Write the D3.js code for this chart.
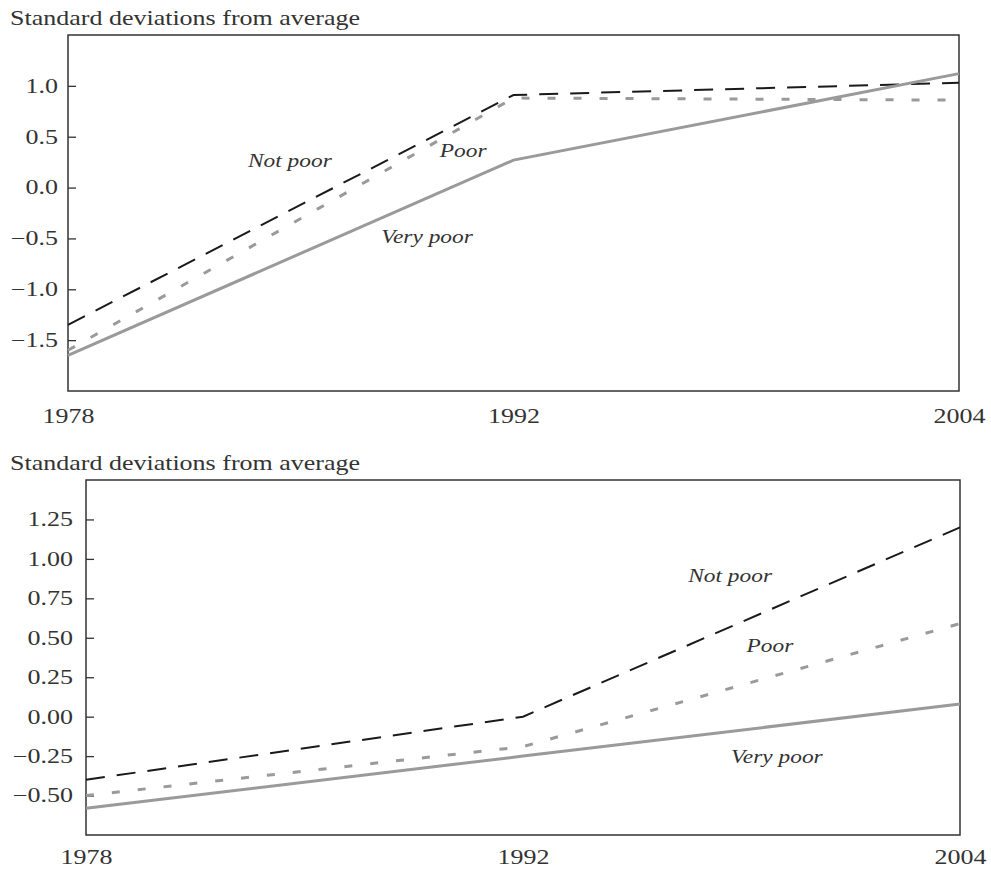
<!DOCTYPE html>
<html lang="en">
	<head>
		<meta charset="utf-8">
		<title>Standard deviations from average</title>
		<script src="https://d3js.org/d3.v7.min.js"></script>
		<style type="text/css">
			body { margin: 0; background: #fff; }
			text { font-family: "Liberation Serif", "Times New Roman", serif; fill: #333; }
		</style>
	</head>
	<body>
		<script type="text/javascript">
		// data
		var years = ["1978", "1992", "2004"];
		var seriesNames = ["Not poor", "Poor", "Very poor"];

		var topNotPoor = [-1.35, 0.91, 1.03];
		var topPoor = [-1.60, 0.88, 0.86];
		var topVeryPoor = [-1.65, 0.27, 1.12];
		var topTicks = [-1.5, -1.0, -0.5, 0.0, 0.5, 1.0];

		var botNotPoor = [-0.40, 0.00, 1.20];
		var botPoor = [-0.50, -0.19, 0.59];
		var botVeryPoor = [-0.58, -0.25, 0.08];
		var botTicks = [-0.5, -0.25, 0.0, 0.25, 0.5, 0.75, 1.0, 1.25];

		var sx = 1.3; // the scan's type is wide, stretch text horizontally

		var svg = d3.select("body")
			.append("svg")
			.attr("width", 991)
			.attr("height", 870);

		var styles = [
			{ stroke: "#1a1a1a", width: 2, dash: "19,12" },
			{ stroke: "#9a9a9a", width: 3, dash: "8,18" },
			{ stroke: "#9a9a9a", width: 3, dash: null }
		];

		function panel(opt) {
			var x = d3.scalePoint().domain(years).range([opt.left, opt.right]);
			// same positions by index, for placing the labels
			var xi = d3.scaleLinear().domain([0, years.length - 1]).range([opt.left, opt.right]);
			var y = d3.scaleLinear().domain(opt.domain).range([opt.bottom, opt.top]);

			svg.append("g")
				.attr("transform", "translate(10," + opt.titleY + ")")
				.append("text")
				.attr("transform", "scale(" + sx + ",1)")
				.style("font-size", "20px")
				.text("Standard deviations from average");

			svg.append("rect")
				.attr("x", opt.left)
				.attr("y", opt.top)
				.attr("width", opt.right - opt.left)
				.attr("height", opt.bottom - opt.top)
				.attr("fill", "none")
				.attr("stroke", "#333")
				.attr("stroke-width", 1.5);

			var yAxis = svg.append("g")
				.attr("transform", "translate(" + opt.left + ",0)")
				.call(d3.axisLeft(y)
					.tickValues(opt.ticks)
					.tickFormat(d3.format(opt.fmt))
					.tickSizeInner(-8)
					.tickSizeOuter(0)
					.tickPadding(opt.pad));
			yAxis.select(".domain").remove();
			yAxis.selectAll(".tick line").attr("stroke", "#333").attr("stroke-width", 1.3);
			yAxis.selectAll(".tick text")
				.attr("x", -opt.pad / sx)
				.attr("transform", "scale(" + sx + ",1)")
				.style("font-size", "20px")
				.attr("fill", "#333");

			var xAxis = svg.append("g")
				.attr("transform", "translate(0," + opt.bottom + ")")
				.call(d3.axisBottom(x).tickSize(0).tickPadding(opt.xpad));
			xAxis.select(".domain").remove();
			xAxis.selectAll(".tick text")
				.attr("transform", "scale(" + sx + ",1)")
				.style("font-size", "20px")
				.attr("fill", "#333");

			var line = d3.line()
				.x(function(d, i){ return x(years[i]); })
				.y(function(d){ return y(d); });

			opt.series.forEach(function(s, i){
				svg.append("path")
					.datum(s)
					.attr("d", line)
					.attr("fill", "none")
					.attr("stroke", styles[i].stroke)
					.attr("stroke-width", styles[i].width)
					.attr("stroke-dasharray", styles[i].dash);
			});

			opt.labels.forEach(function(p, i){
				svg.append("g")
					.attr("transform", "translate(" + xi(p[0]) + "," + y(p[1]) + ")")
					.append("text")
					.attr("transform", "scale(" + sx + ",1)")
					.attr("text-anchor", "middle")
					.style("font-size", "18px")
					.style("font-style", "italic")
					.text(seriesNames[i]);
			});
		}

		panel({
			left: 68, right: 959, top: 35, bottom: 391,
			domain: [-2.0, 1.5], ticks: topTicks, fmt: ".1f", pad: 10, xpad: 18,
			titleY: 25,
			series: [topNotPoor, topPoor, topVeryPoor],
			labels: [[0.498, 0.20], [0.887, 0.30], [0.806, -0.545]]
		});

		panel({
			left: 86, right: 960, top: 480, bottom: 835,
			domain: [-0.75, 1.5], ticks: botTicks, fmt: ".2f", pad: 13, xpad: 15,
			titleY: 470,
			series: [botNotPoor, botPoor, botVeryPoor],
			labels: [[1.474, 0.854], [1.565, 0.41], [1.581, -0.293]]
		});
		</script>
	</body>
</html>
